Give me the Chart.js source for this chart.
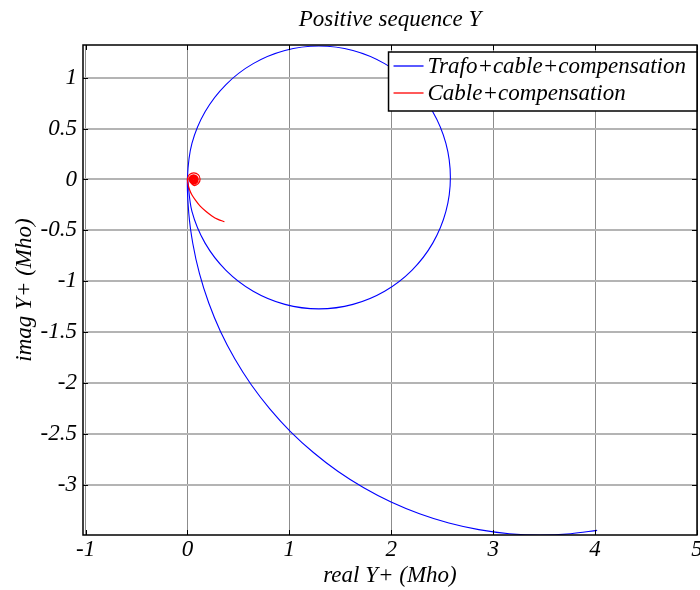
<!DOCTYPE html>
<html>
<head>
<meta charset="utf-8">
<title>Positive sequence Y</title>
<script src="https://cdn.jsdelivr.net/npm/chart.js@4.4.1/dist/chart.umd.min.js"></script>
<style>
  html, body { margin:0; padding:0; background:#fff; }
  #wrap { width:700px; height:590px; }
</style>
</head>
<body>
<div id="wrap"><canvas id="chart" width="700" height="590"></canvas></div>
<script>
// Trafo+cable+compensation: big arc coming in from (4, -3.45) to the origin,
// then once round the loop centred near (1.29, 0)
const trafoX = [4.02, 3.762, 3.46, 3.158, 2.859, 2.565, 2.277, 1.998, 1.730, 1.475, 1.236, 1.013, 0.810, 0.626, 0.464, 0.324, 0.209, 0.118, 0.053, 0.013, 0.0,
  0.044, 0.173, 0.378, 0.645, 0.956, 1.29, 1.624, 1.935, 2.202, 2.407, 2.536, 2.58,
  2.536, 2.407, 2.202, 1.935, 1.624, 1.29, 0.956, 0.645, 0.378, 0.173, 0.044, 0.0];
const trafoY = [-3.445, -3.477, -3.49, -3.477, -3.437, -3.372, -3.281, -3.166, -3.026, -2.864, -2.680, -2.477, -2.254, -2.015, -1.760, -1.492, -1.213, -0.925, -0.631, -0.332, 0.02,
  0.354, 0.665, 0.932, 1.137, 1.266, 1.31, 1.266, 1.137, 0.932, 0.665, 0.354, 0.02,
  -0.314, -0.625, -0.892, -1.097, -1.226, -1.27, -1.226, -1.097, -0.892, -0.625, -0.314, 0.02];

// Cable+compensation: short tail, then a tight spiral just right of the origin
const cableX = [0.363, 0.30, 0.24, 0.18, 0.125, 0.08, 0.043, 0.02, 0.007, 0.0,
  0.018, 0.062, 0.106, 0.124, 0.106, 0.062, 0.030,
  0.015, 0.028, 0.060, 0.092, 0.105, 0.092, 0.060, 0.038,
  0.024, 0.035, 0.060, 0.085, 0.096, 0.085, 0.060, 0.045,
  0.033, 0.041, 0.060, 0.079, 0.087, 0.079, 0.060, 0.051,
  0.042, 0.047, 0.060, 0.073, 0.078, 0.073, 0.060, 0.056,
  0.051, 0.054, 0.060, 0.066, 0.069, 0.066, 0.060, 0.056, 0.060];
const cableY = [-0.415, -0.392, -0.358, -0.312, -0.262, -0.205, -0.150, -0.098, -0.05, 0.003,
  0.047, 0.065, 0.047, 0.003, -0.041, -0.059, -0.030,
  0.0, 0.032, 0.045, 0.032, 0.0, -0.032, -0.045, -0.022,
  0.0, 0.025, 0.036, 0.025, 0.0, -0.025, -0.036, -0.015,
  0.0, 0.019, 0.027, 0.019, 0.0, -0.019, -0.027, -0.008,
  0.0, 0.013, 0.018, 0.013, 0.0, -0.013, -0.018, -0.003,
  0.0, 0.006, 0.009, 0.006, 0.0, -0.006, -0.009, -0.003, 0.0];

const seriesLabels = ['Trafo+cable+compensation', 'Cable+compensation'];
const seriesColors = ['#0000ff', '#ff0000'];

const xTicks = [-1, 0, 1, 2, 3, 4, 5];
const xTickLabels = ['-1', '0', '1', '2', '3', '4', '5'];
const yTicks = [-3, -2.5, -2, -1.5, -1, -0.5, 0, 0.5, 1];
const yTickLabels = ['-3', '-2.5', '-2', '-1.5', '-1', '-0.5', '0', '0.5', '1'];

const FONT_FAMILY = "'Liberation Serif', 'Times New Roman', Times, serif";
const font = (size) => ({family: FONT_FAMILY, size, style: 'italic', weight: 'normal', lineHeight: 1.2});

const toPoints = (xs, ys) => xs.map((x, i) => ({x, y: ys[i]}));

// black box round the plot area with short inward tick marks on all four sides
const axesFrame = {
  id: 'axesFrame',
  afterDatasetsDraw(chart){
    const {ctx, chartArea: a, scales: {x, y}} = chart;
    const len = 5;
    ctx.save();
    ctx.strokeStyle = '#000';
    ctx.lineWidth = 1;
    ctx.beginPath();
    x.ticks.forEach(t => {
      const px = Math.round(x.getPixelForValue(t.value)) + 0.5;
      ctx.moveTo(px, a.bottom); ctx.lineTo(px, a.bottom - len);
      ctx.moveTo(px, a.top); ctx.lineTo(px, a.top + len);
    });
    y.ticks.forEach(t => {
      const py = Math.round(y.getPixelForValue(t.value)) + 0.5;
      ctx.moveTo(a.left, py); ctx.lineTo(a.left + len, py);
      ctx.moveTo(a.right, py); ctx.lineTo(a.right - len, py);
    });
    ctx.stroke();
    ctx.lineWidth = 1.5;
    ctx.strokeRect(a.left, a.top, a.right - a.left, a.bottom - a.top);
    ctx.restore();
  }
};

// boxed legend in the top right corner of the plot area
const boxLegend = {
  id: 'boxLegend',
  afterDatasetsDraw(chart){
    const {ctx, chartArea: a} = chart;
    const sets = chart.data.datasets;
    ctx.save();
    ctx.font = `italic 23px ${FONT_FAMILY}`;
    const textW = Math.max(...sets.map(d => ctx.measureText(d.label).width));
    const padL = 5, sample = 30, gap = 4, padR = 11, rowH = 27;
    const w = padL + sample + gap + textW + padR;
    const h = 59;
    const left = a.right - w, top = a.top + 7;
    ctx.fillStyle = '#fff';
    ctx.fillRect(left, top, w, h);
    ctx.strokeStyle = '#000';
    ctx.lineWidth = 1.5;
    ctx.strokeRect(left, top, w, h);
    sets.forEach((d, i) => {
      const cy = Math.round(top + 14 + i * rowH);
      ctx.strokeStyle = d.borderColor;
      ctx.lineWidth = 1.3;
      ctx.beginPath();
      ctx.moveTo(left + padL, cy);
      ctx.lineTo(left + padL + sample, cy);
      ctx.stroke();
      ctx.fillStyle = '#000';
      ctx.textBaseline = 'middle';
      ctx.textAlign = 'left';
      ctx.fillText(d.label, left + padL + sample + gap, cy + 1);
    });
    ctx.restore();
  }
};

const ctx = document.getElementById('chart').getContext('2d');
new Chart(ctx, {
  type: 'scatter',
  data: {
    datasets: [
      {
        label: seriesLabels[0],
        data: toPoints(trafoX, trafoY),
        borderColor: seriesColors[0],
        borderWidth: 1.1,
        showLine: true,
        pointRadius: 0,
        tension: 0.33,
        order: 1,
      },
      {
        label: seriesLabels[1],
        data: toPoints(cableX, cableY),
        borderColor: seriesColors[1],
        borderWidth: 1.2,
        showLine: true,
        pointRadius: 0,
        tension: 0.3,
        order: 0,
      }
    ]
  },
  options: {
    responsive: false,
    animation: false,
    devicePixelRatio: 1,
    layout: {padding: {left: 0, right: 3, top: 0, bottom: 0}},
    plugins: {
      legend: {display: false},
      tooltip: {enabled: false},
      title: {
        display: true,
        fullSize: false,
        text: 'Positive sequence Y',
        color: '#000',
        font: font(23),
        padding: {top: 6, bottom: 11.4},
      },
    },
    scales: {
      x: {
        type: 'linear',
        min: -1.025,
        max: 5,
        afterBuildTicks: s => { s.ticks = xTicks.map(v => ({value: v})); },
        afterFit: s => { s.height = 55; s.paddingLeft = 0; s.paddingRight = 0; },
        ticks: {
          color: '#000',
          font: font(23),
          padding: 1,
          maxRotation: 0,
          autoSkip: false,
          callback: v => xTickLabels[xTicks.indexOf(v)],
        },
        grid: {color: '#8c8c8c', lineWidth: 1, drawTicks: false},
        border: {display: false},
        title: {display: true, text: 'real Y+ (Mho)', color: '#000', font: font(23), padding: {top: 0, bottom: 0}},
      },
      y: {
        type: 'linear',
        min: -3.49,
        max: 1.32,
        afterBuildTicks: s => { s.ticks = yTicks.map(v => ({value: v})); },
        afterFit: s => { s.width = 83; s.paddingTop = 0; s.paddingBottom = 0; },
        ticks: {
          color: '#000',
          font: font(23),
          padding: 6,
          autoSkip: false,
          callback: v => yTickLabels[yTicks.indexOf(v)],
        },
        grid: {color: '#b4b4b4', lineWidth: 2, drawTicks: false},
        border: {display: false},
        title: {display: true, text: 'imag Y+ (Mho)', color: '#000', font: font(23), padding: {top: 11, bottom: 0}},
      }
    }
  },
  plugins: [axesFrame, boxLegend]
});
</script>
</body>
</html>
